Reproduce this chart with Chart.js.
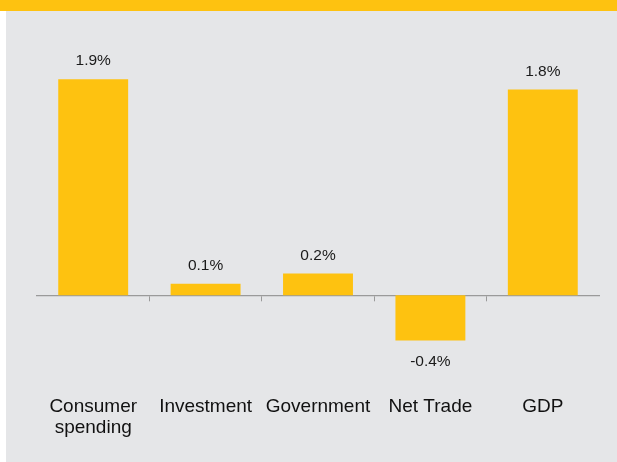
<!DOCTYPE html>
<html>
<head>
<meta charset="utf-8">
<script src="https://cdn.jsdelivr.net/npm/chart.js@4.4.1/dist/chart.umd.min.js"></script>
<style>
  html, body { margin: 0; padding: 0; background: #ffffff; }
  canvas { display: block; }
</style>
</head>
<body>
<canvas id="growth" width="617" height="462"></canvas>
<script>
// Contribution to GDP growth, percentage points
const categories = [['Consumer', 'spending'], 'Investment', 'Government', 'Net Trade', 'GDP'];
const contributions = [1.9, 0.1, 0.19, -0.4, 1.81];
const yRange = [-0.8, 2.0];

const YELLOW = '#fec210';
const FONT = '"Liberation Sans", Arial, Helvetica, sans-serif';

// gray panel with the yellow band on top
const backdrop = {
    id: 'backdrop',
    beforeDraw(chart) {
        const { ctx, width, height } = chart;
        ctx.save();
        ctx.fillStyle = '#ffffff';
        ctx.fillRect(0, 0, width, height);
        ctx.fillStyle = '#e5e6e8';
        ctx.fillRect(6, 0, width - 6, height);
        ctx.fillStyle = YELLOW;
        ctx.fillRect(0, 0, width, 11);
        ctx.restore();
    }
};

// value labels above / below each bar
const barValues = {
    id: 'barValues',
    afterDatasetsDraw(chart) {
        const { ctx } = chart;
        const meta = chart.getDatasetMeta(0);
        ctx.save();
        ctx.font = '15.5px ' + FONT;
        ctx.fillStyle = '#1a1a1a';
        ctx.textAlign = 'center';
        ctx.textBaseline = 'alphabetic';
        meta.data.forEach((bar, i) => {
            const v = contributions[i];
            const y = v >= 0 ? bar.y - 14 : bar.y + 25;
            ctx.fillText(v.toFixed(1) + '%', bar.x, y);
        });
        ctx.restore();
    }
};

const ctx = document.getElementById('growth').getContext('2d');
const chart = new Chart(ctx, {
    type: 'bar',
    data: {
        labels: categories,
        datasets: [{
            data: contributions,
            backgroundColor: YELLOW,
            borderWidth: 0,
            barPercentage: 0.622,
            categoryPercentage: 1.0,
        }]
    },
    options: {
        responsive: false,
        animation: false,
        layout: { padding: { top: 68, bottom: 14, left: 37, right: 18 } },
        plugins: {
            legend: { display: false },
            tooltip: { enabled: false },
        },
        scales: {
            x: {
                type: 'category',
                position: 'bottom',
                offset: true,
                grid: { display: false, drawTicks: false },
                border: { display: false },
                ticks: {
                    color: '#111111',
                    font: { family: FONT, size: 19, lineHeight: 1.105 },
                    padding: 10,
                    maxRotation: 0,
                    autoSkip: false,
                },
            },
            zero: {
                type: 'category',
                axis: 'x',
                position: { y: 0 },
                offset: true,
                z: 1,
                grid: {
                    offset: true,
                    drawOnChartArea: false,
                    tickLength: 5,
                    lineWidth: 1,
                    color: (c) => (c.index > 0 && c.index < categories.length ? '#9a9a9a' : 'rgba(0,0,0,0)'),
                },
                border: { color: '#9a9a9a', width: 1.3 },
                ticks: { display: false },
            },
            y: {
                display: false,
                min: yRange[0],
                max: yRange[1],
            },
        },
    },
    plugins: [backdrop, barValues],
});
</script>
</body>
</html>
